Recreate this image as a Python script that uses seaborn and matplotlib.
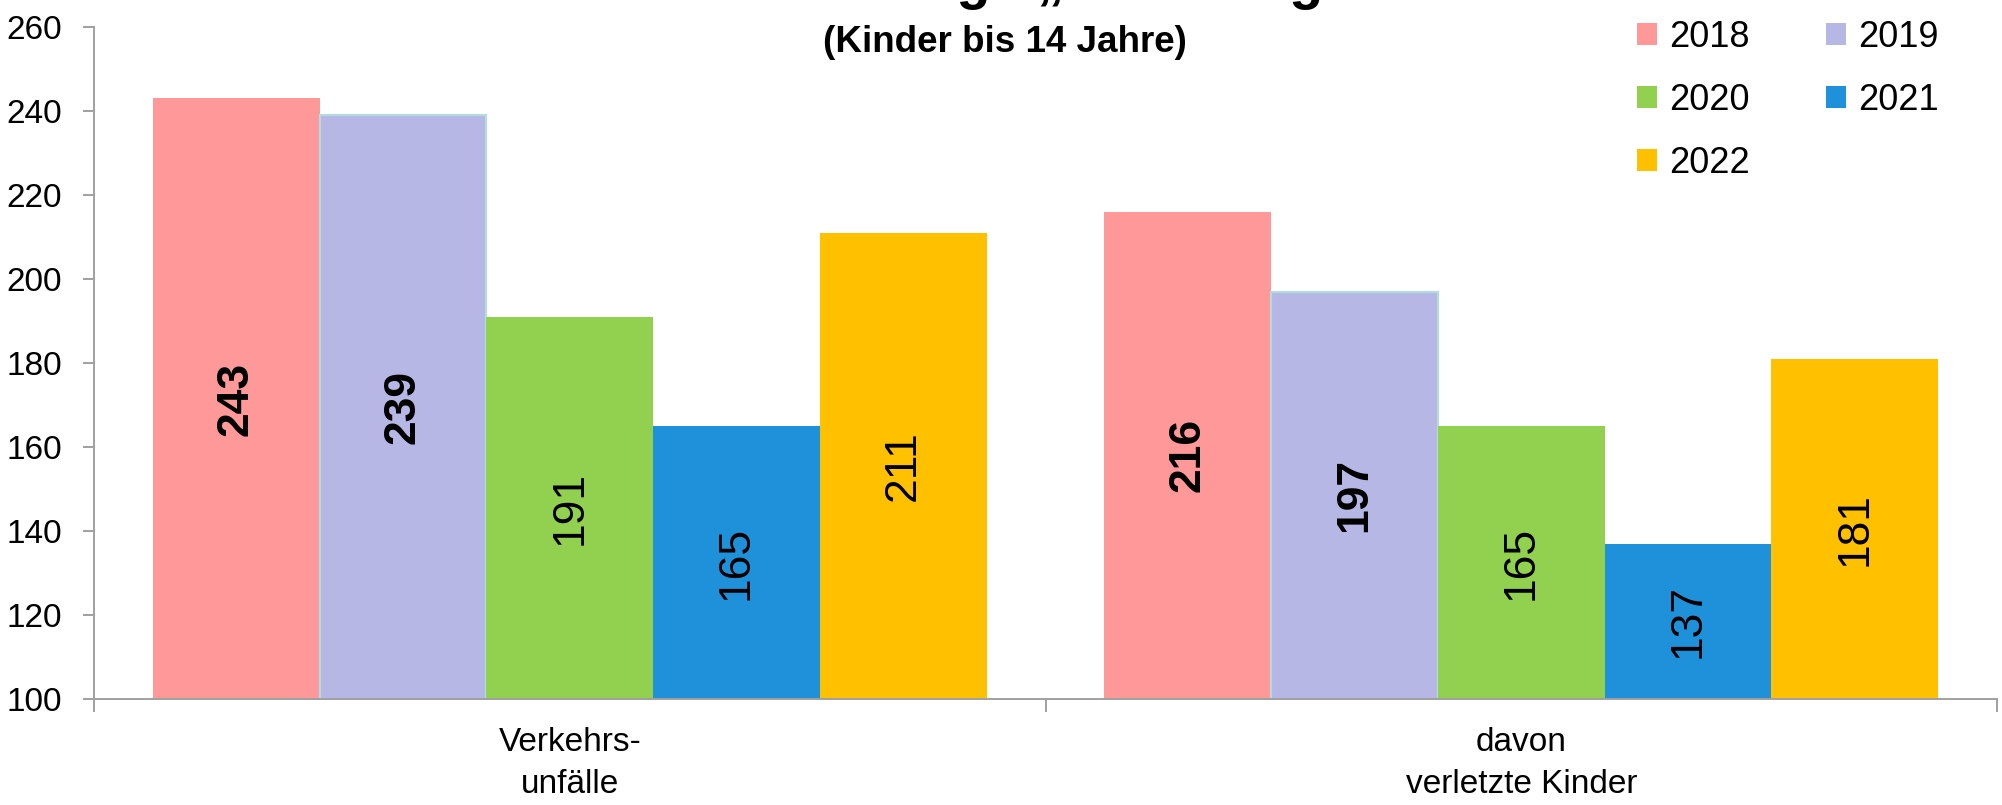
import matplotlib
matplotlib.use("Agg")
import pandas as pd
import seaborn as sns
import matplotlib.pyplot as plt
from matplotlib.patches import Patch

# Daten
kategorien = ["Verkehrs-\nunfälle", "davon\nverletzte Kinder"]
jahre = ["2018", "2019", "2020", "2021", "2022"]
unfaelle = [243, 239, 191, 165, 211]
verletzte = [216, 197, 165, 137, 181]
farben = ["#FF9999", "#B7B7E6", "#92D050", "#1F91DA", "#FFC000"]
fett_jahre = ["2018", "2019"]

sns.set_theme(style="white")
plt.rcParams["font.family"] = ["Liberation Sans", "DejaVu Sans"]
plt.rcParams["axes.unicode_minus"] = False
plt.rcParams["text.color"] = "black"
plt.rcParams["xtick.labelcolor"] = "black"
plt.rcParams["ytick.labelcolor"] = "black"

df = pd.DataFrame({
    "Kategorie": [kategorien[0]] * len(jahre) + [kategorien[1]] * len(jahre),
    "Jahr": jahre + jahre,
    "Anzahl": unfaelle + verletzte,
})

W, H = 2002, 805
fig = plt.figure(figsize=(W / 100, H / 100), dpi=100)
ax = fig.add_axes([94 / W, 1 - 699 / H, (1997 - 94) / W, (699 - 27) / H])

sns.barplot(data=df, x="Kategorie", y="Anzahl", hue="Jahr", palette=farben,
            width=0.876, saturation=1, legend=False, linewidth=0, ax=ax)

# Werte in die Balken schreiben
for cont, jahr in zip(ax.containers, jahre):
    for bar in cont:
        v = bar.get_height()
        if jahr == "2019":
            bar.set_edgecolor("#B5DCDC")
            bar.set_linewidth(1.5)
        ax.text(bar.get_x() + bar.get_width() / 2, (100 + v) / 2, f"{v:.0f}",
                rotation=90, ha="center", va="center", fontsize=32,
                fontweight="bold" if jahr in fett_jahre else "normal", color="black")

ax.set_ylim(100, 260)
ax.set_xlim(-0.5, 1.5)
ax.set_yticks(range(100, 261, 20))
ax.set_xlabel("")
ax.set_ylabel("")

for s in ["top", "right"]:
    ax.spines[s].set_visible(False)
for s in ["left", "bottom"]:
    ax.spines[s].set_color("#A0A0A0")
    ax.spines[s].set_linewidth(1.4)

ax.tick_params(axis="y", direction="out", length=8, width=1.4, color="#A0A0A0",
               labelsize=24, pad=15, left=True)
ax.set_xticks([-0.5, 0.5, 1.5])
ax.set_xticklabels([])
ax.tick_params(axis="x", which="major", direction="out", length=9, width=1.4,
               color="#A0A0A0", bottom=True)
ax.set_xticks([0, 1], minor=True)
ax.set_xticklabels(kategorien, minor=True, fontsize=24, linespacing=1.45)
ax.tick_params(axis="x", which="minor", length=0, pad=20)

# Legende (zeilenweise Reihenfolge)
reihenfolge = [0, 2, 4, 1, 3]
handles = [Patch(facecolor=farben[i], edgecolor="none") for i in reihenfolge]
labels = [jahre[i] for i in reihenfolge]
fig.legend(handles, labels, ncol=2, loc="upper left",
           bbox_to_anchor=(1637 / W, 1 - 20 / H), frameon=False, fontsize=26,
           handlelength=0.55, handleheight=0.55, handletextpad=0.35,
           columnspacing=2.1, labelspacing=0.77, borderpad=0, borderaxespad=0)

# Titel (oben abgeschnitten) und Untertitel
fig.text(1053 / W, 1 + 2 / H, "Unfalllage „Schulweg“", ha="center", va="baseline",
         fontsize=40, fontweight="bold")
fig.text(1005 / W, 1 - 42 / H, "(Kinder bis 14 Jahre)", ha="center", va="center",
         fontsize=26.5, fontweight="bold")

fig.savefig("out.png", dpi=100)
